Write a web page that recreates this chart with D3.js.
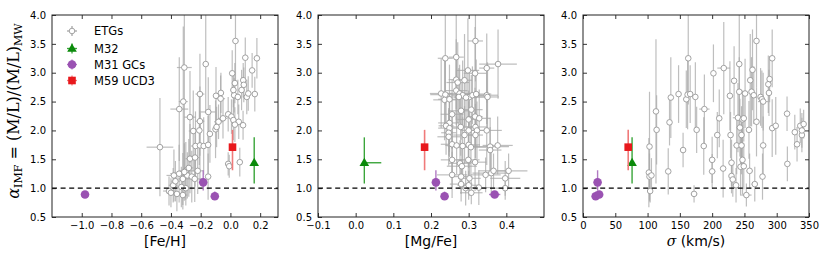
<!DOCTYPE html>
<html><head><meta charset="utf-8">
<script src="https://cdn.jsdelivr.net/npm/d3@7"></script>
<style>
body{margin:0;background:#fff;}
svg{display:block;}
.tick text{font-family:"DejaVu Sans",sans-serif;font-size:10px;fill:#000;}
</style></head>
<body>
<svg id="chart" width="830" height="260"></svg>
<script>
// ---------- data ----------
const alphaTicks = [0.5, 1.0, 1.5, 2.0, 2.5, 3.0, 3.5, 4.0];
const fehTicks = [-1.0, -0.8, -0.6, -0.4, -0.2, 0.0, 0.2];
const mgfeTicks = [-0.1, 0.0, 0.1, 0.2, 0.3, 0.4];
const sigmaTicks = [0, 50, 100, 150, 200, 250, 300, 350];
const legendLabels = ["ETGs", "M32", "M31 GCs", "M59 UCD3"];

// ETGs: [x, alpha, xerr, alphaErr]
const etgFeH = [
[-0.474,1.71,0.09,0.85],[-0.31,3.09,0.05,1.9],[-0.166,3.15,0.02,0.85],[-0.317,2.50,0.03,1.3],
[-0.344,2.37,0.06,0.9],[-0.272,2.23,0.04,0.8],[-0.205,2.63,0.03,0.7],[-0.149,2.32,0.05,0.6],
[-0.205,2.16,0.03,0.6],[-0.25,1.99,0.03,0.7],[-0.209,2.00,0.02,0.6],[-0.138,1.94,0.02,0.5],
[-0.10,2.02,0.02,0.5],[-0.097,2.60,0.02,0.5],
[-0.064,2.65,0.02,0.35],[-0.066,2.55,0.03,0.4],[-0.093,2.06,0.02,0.35],
[-0.08,2.15,0.03,0.3],[-0.05,2.21,0.03,0.35],[-0.015,2.28,0.02,0.3],[0.007,2.24,0.02,0.3],
[0.02,2.18,0.02,0.35],[0.034,3.55,0.02,0.7],[0.012,2.99,0.02,0.4],[0.03,2.82,0.02,0.35],
[0.025,2.61,0.02,0.3],[0.02,2.70,0.02,0.3],[0.05,2.58,0.02,0.3],[0.075,2.70,0.02,0.35],
[0.086,2.87,0.02,0.3],[0.10,3.26,0.02,0.35],[0.09,2.79,0.02,0.3],[0.11,2.58,0.02,0.3],
[0.12,2.64,0.02,0.3],[0.146,3.04,0.02,0.3],[0.164,2.63,0.02,0.3],[0.178,3.25,0.02,0.35],
[0.056,2.15,0.02,0.3],[0.085,2.09,0.02,0.25],[0.03,2.10,0.02,0.3],[-0.015,1.42,0.02,0.2],
[-0.008,1.38,0.02,0.2],[0.063,1.45,0.02,0.25],
[-0.235,1.73,0.03,0.6],[-0.205,1.74,0.03,0.6],[-0.18,1.73,0.03,0.5],[-0.15,1.75,0.02,0.5],
[-0.272,1.51,0.03,0.6],[-0.238,1.53,0.03,0.5],[-0.15,1.20,0.02,0.4],
[-0.38,1.22,0.05,0.45],[-0.345,1.25,0.06,0.5],[-0.30,1.30,0.04,0.5],[-0.32,1.16,0.03,0.45],
[-0.29,1.22,0.05,0.4],[-0.26,1.20,0.03,0.45],[-0.31,1.28,0.04,0.5],[-0.24,1.16,0.05,0.4],
[-0.385,1.05,0.03,0.3],[-0.413,0.95,0.04,0.25],[-0.40,0.92,0.03,0.25],[-0.32,0.88,0.03,0.25],
[-0.36,0.90,0.04,0.3],[-0.30,1.00,0.04,0.3],[-0.37,1.12,0.03,0.35],[-0.33,1.02,0.05,0.35],
[-0.28,1.35,0.03,0.5],[-0.22,1.30,0.04,0.4]
];
const etgMgFe = [
[0.238,3.25,0.02,0.8],[0.267,3.27,0.02,0.9],[0.318,3.55,0.02,0.7],[0.378,3.15,0.05,0.6],
[0.298,3.04,0.03,0.9],[0.317,2.99,0.03,0.8],[0.348,3.08,0.02,0.6],[0.267,2.88,0.02,0.7],
[0.289,2.87,0.02,0.8],[0.271,2.83,0.03,0.7],[0.227,2.64,0.03,0.6],[0.238,2.62,0.04,0.6],
[0.236,2.53,0.03,0.7],[0.249,2.54,0.03,0.6],[0.267,2.69,0.03,0.6],[0.276,2.64,0.04,0.5],
[0.284,2.61,0.03,0.6],[0.302,2.58,0.04,0.5],[0.31,2.61,0.03,0.5],[0.32,2.63,0.04,0.6],
[0.348,2.61,0.03,0.5],[0.35,2.58,0.03,0.6],[0.274,2.58,0.03,0.5],[0.293,2.57,0.03,0.5],
[0.256,2.28,0.03,0.6],[0.28,2.34,0.03,0.5],[0.307,2.36,0.03,0.6],[0.30,2.19,0.03,0.5],
[0.317,2.24,0.02,0.5],[0.328,2.21,0.03,0.5],[0.249,2.13,0.03,0.5],[0.24,2.08,0.02,0.5],
[0.249,2.04,0.03,0.5],[0.247,1.96,0.02,0.4],[0.247,1.89,0.03,0.5],[0.279,2.06,0.03,0.5],
[0.30,2.00,0.02,0.5],[0.318,2.06,0.03,0.4],[0.322,2.00,0.03,0.5],[0.318,1.92,0.02,0.4],
[0.289,1.92,0.03,0.5],[0.348,2.00,0.04,0.6],[0.256,1.76,0.03,0.5],[0.268,1.74,0.03,0.5],
[0.284,1.73,0.04,0.5],[0.30,1.75,0.03,0.4],[0.306,1.71,0.04,0.5],[0.357,1.72,0.05,0.5],
[0.377,1.74,0.04,0.5],[0.357,1.66,0.03,0.4],[0.256,1.49,0.03,0.5],[0.277,1.43,0.03,0.4],
[0.282,1.38,0.04,0.4],[0.299,1.49,0.03,0.4],[0.317,1.45,0.03,0.5],[0.256,1.23,0.04,0.4],
[0.28,1.20,0.03,0.3],[0.302,1.17,0.03,0.3],[0.345,1.23,0.04,0.3],[0.36,1.26,0.05,0.4],
[0.366,1.30,0.04,0.3],[0.406,1.30,0.05,0.3],[0.397,1.17,0.04,0.3],[0.28,1.07,0.03,0.3],
[0.292,1.00,0.02,0.3],[0.307,0.92,0.03,0.2],[0.327,1.01,0.03,0.3],[0.397,1.00,0.04,0.2],
[0.30,1.05,0.03,0.25]
];
const etgSigma = [
[103,1.72,3,0.95],[102,1.27,3,0.6],[103,1.20,3,0.4],[106,1.22,3,0.3],[104,0.95,3,0.2],
[113,2.33,4,1.25],[114,2.01,3,0.6],[132,1.29,4,0.4],[136,2.57,4,0.7],[134,2.14,4,0.4],
[148,2.63,4,0.5],[155,1.66,4,0.3],[160,2.54,5,0.5],[163,3.25,3,0.8],[162,2.62,4,0.6],
[166,2.63,4,0.5],[174,2.58,4,0.6],[176,2.01,4,0.4],[172,0.90,5,0.15],[188,2.37,8,0.6],
[187,1.73,4,0.5],[200,1.49,5,0.4],[200,1.29,5,0.3],[202,2.99,3,0.5],[208,1.92,4,0.4],
[211,2.21,4,0.5],[217,1.34,4,0.5],[218,3.08,10,0.8],[227.5,2.60,4,0.6],[228.5,1.92,4,0.4],
[230,1.44,4,0.4],[230,1.21,4,0.3],[232,1.15,5,0.3],[234,2.86,3,0.6],[237,1.05,4,0.3],
[238,1.74,5,0.5],[240,2.22,8,0.6],[242,3.15,4,0.9],[242,2.67,4,0.6],[243,2.05,5,0.5],
[244,1.37,5,0.5],[245.5,1.74,4,0.5],[245.5,1.92,4,0.5],[247,2.19,5,0.5],[249,2.21,5,0.4],
[247,1.49,4,0.6],[249,1.38,4,0.4],[251,2.64,4,0.6],[253,0.88,8,0.2],[257,2.01,4,0.5],
[258,1.30,5,0.3],[259,2.87,4,0.8],[261,2.67,4,0.6],[262.5,3.05,3,0.7],[264.5,2.61,4,0.5],
[266,1.07,5,0.3],[268.7,3.55,3,0.8],[268.7,2.15,4,0.6],[275,2.58,4,0.5],[277,2.54,4,0.5],
[279,2.50,8,0.5],[279,1.74,4,0.5],[278,1.20,4,0.4],[287,2.80,3,0.5],[288,2.65,4,0.4],
[289,2.89,3,0.4],[293,3.25,3,0.5],[293,2.04,4,0.5],[298.5,2.08,4,0.5],[316,2.29,3,0.3],
[316.5,1.42,3,0.3],[328,1.97,3,0.3],[331.5,1.76,3,0.3],[336.5,2.08,3,0.3],[339,1.92,3,0.3],
[341.7,2.11,3,0.25],[339,2.00,3,0.3]
];

// M32 (one object)
const m32Alpha = [1.44], m32AlphaLo = [0.36], m32AlphaHi = [0.44];
const m32FeH = [0.16], m32FeHErrLo = [0.005], m32FeHErrHi = [0.005];
const m32MgFe = [0.023], m32MgFeErrLo = [0.005], m32MgFeErrHi = [0.045];
const m32Sigma = [76], m32SigmaErrLo = [2], m32SigmaErrHi = [2];

// M31 globular clusters
const gcAlpha = [1.10, 0.86, 0.89], gcAlphaLo = [0.14, 0.06, 0.04], gcAlphaHi = [0.21, 0.08, 0.04];
const gcFeH = [-0.183, -0.105, -0.978], gcFeHErr = [0.01, 0.01, 0.01];
const gcMgFe = [0.213, 0.236, 0.369], gcMgFeErr = [0.005, 0.005, 0.015];
const gcSigma = [22.6, 19.6, 25], gcSigmaErr = [1, 1, 1];

// M59 UCD3
const ucdAlpha = [1.71], ucdAlphaLo = [0.40], ucdAlphaHi = [0.30];
const ucdFeH = [0.014], ucdFeHErr = [0.012];
const ucdMgFe = [0.183], ucdMgFeErr = [0.008];
const ucdSigma = [70], ucdSigmaErr = [3];

// ---------- layout ----------
const plotTop = 15, plotBottom = 217, W = 226;
const lefts = [52, 318, 583];
const colors = {etg:"#999999", etgBar:"#a8a8a8", green:"#0b8a0b", greenBar:"#3aa53a",
  purple:"#9a52b2", purpleBar:"#b07ac2", red:"#e8181c", redBar:"#f07a7a"};

const svg = d3.select("#chart");
const y = d3.scaleLinear().domain([0.5, 4.0]).range([plotBottom, plotTop]);

const panels = [
  {domain:[-1.2, 0.32], ticks:fehTicks, fmt:d3.format(".1f"), label:"[Fe/H]", etg:etgFeH,
   m32:[m32FeH, m32FeHErrLo, m32FeHErrHi], gc:[gcFeH, gcFeHErr], ucd:[ucdFeH, ucdFeHErr]},
  {domain:[-0.1, 0.5], ticks:mgfeTicks, fmt:d3.format(".1f"), label:"[Mg/Fe]", etg:etgMgFe,
   m32:[m32MgFe, m32MgFeErrLo, m32MgFeErrHi], gc:[gcMgFe, gcMgFeErr], ucd:[ucdMgFe, ucdMgFeErr]},
  {domain:[0, 350], ticks:sigmaTicks, fmt:d3.format("d"), label:"sigma", etg:etgSigma,
   m32:[m32Sigma, m32SigmaErrLo, m32SigmaErrHi], gc:[gcSigma, gcSigmaErr], ucd:[ucdSigma, ucdSigmaErr]}
];

panels.forEach((p, i) => {
  const L = lefts[i];
  const x = d3.scaleLinear().domain(p.domain).range([L, L + W]);
  const g = svg.append("g");
  const clipId = "clip" + i;
  svg.append("clipPath").attr("id", clipId).append("rect")
    .attr("x", L).attr("y", plotTop).attr("width", W).attr("height", plotBottom - plotTop);
  const plot = g.append("g").attr("clip-path", `url(#${clipId})`);

  // ETG error bars
  const eb = plot.append("g").attr("stroke", colors.etgBar).attr("stroke-width", 1.2).attr("stroke-opacity", 0.75);
  p.etg.forEach(d => {
    eb.append("line").attr("x1", x(d[0])).attr("x2", x(d[0])).attr("y1", y(d[1] - d[3])).attr("y2", y(d[1] + d[3]));
    eb.append("line").attr("x1", x(d[0] - d[2])).attr("x2", x(d[0] + d[2])).attr("y1", y(d[1])).attr("y2", y(d[1]));
  });
  plot.append("g").selectAll("circle").data(p.etg).join("circle")
    .attr("cx", d => x(d[0])).attr("cy", d => y(d[1])).attr("r", 2.8)
    .attr("fill", "#fff").attr("stroke", colors.etg).attr("stroke-width", 0.9);

  // dashed line at alpha = 1
  plot.append("line").attr("x1", L).attr("x2", L + W).attr("y1", y(1)).attr("y2", y(1))
    .attr("stroke", "#000").attr("stroke-width", 1.4).attr("stroke-dasharray", "5,3.6");

  // M32
  const [mx, mlo, mhi] = p.m32;
  mx.forEach((v, k) => {
    plot.append("line").attr("x1", x(v)).attr("x2", x(v)).attr("y1", y(m32Alpha[k] - m32AlphaLo[k])).attr("y2", y(m32Alpha[k] + m32AlphaHi[k]))
      .attr("stroke", colors.greenBar).attr("stroke-width", 1.4);
    plot.append("line").attr("x1", x(v - mlo[k])).attr("x2", x(v + mhi[k])).attr("y1", y(m32Alpha[k])).attr("y2", y(m32Alpha[k]))
      .attr("stroke", colors.greenBar).attr("stroke-width", 1.4);
    plot.append("path").attr("d", d3.symbol(d3.symbolTriangle, 40)())
      .attr("transform", `translate(${x(v)},${y(m32Alpha[k]) + 0.5})`).attr("fill", colors.green);
  });

  // M31 GCs
  const [gx, gerr] = p.gc;
  gx.forEach((v, k) => {
    plot.append("line").attr("x1", x(v)).attr("x2", x(v)).attr("y1", y(gcAlpha[k] - gcAlphaLo[k])).attr("y2", y(gcAlpha[k] + gcAlphaHi[k]))
      .attr("stroke", colors.purpleBar).attr("stroke-width", 1.4);
    plot.append("line").attr("x1", x(v - gerr[k])).attr("x2", x(v + gerr[k])).attr("y1", y(gcAlpha[k])).attr("y2", y(gcAlpha[k]))
      .attr("stroke", colors.purpleBar).attr("stroke-width", 1.4);
  });
  plot.append("g").selectAll("circle").data(gx).join("circle")
    .attr("cx", d => x(d)).attr("cy", (d, k) => y(gcAlpha[k])).attr("r", 4.3).attr("fill", colors.purple);

  // M59 UCD3
  const [ux, uerr] = p.ucd;
  ux.forEach((v, k) => {
    plot.append("line").attr("x1", x(v)).attr("x2", x(v)).attr("y1", y(ucdAlpha[k] - ucdAlphaLo[k])).attr("y2", y(ucdAlpha[k] + ucdAlphaHi[k]))
      .attr("stroke", colors.redBar).attr("stroke-width", 1.6);
    plot.append("line").attr("x1", x(v - uerr[k])).attr("x2", x(v + uerr[k])).attr("y1", y(ucdAlpha[k])).attr("y2", y(ucdAlpha[k]))
      .attr("stroke", colors.redBar).attr("stroke-width", 1.6);
    plot.append("rect").attr("x", x(v) - 3.8).attr("y", y(ucdAlpha[k]) - 3.8).attr("width", 7.6).attr("height", 7.6)
      .attr("fill", colors.red);
  });

  // axes (inward ticks on all sides)
  g.append("g").attr("transform", `translate(0,${plotBottom})`)
    .call(d3.axisBottom(x).tickValues(p.ticks).tickFormat(p.fmt).tickSizeInner(-4).tickSizeOuter(0).tickPadding(5));
  g.append("g").attr("transform", `translate(0,${plotTop})`)
    .call(d3.axisTop(x).tickValues(p.ticks).tickFormat("").tickSizeInner(-4).tickSizeOuter(0));
  g.append("g").attr("transform", `translate(${L},0)`)
    .call(d3.axisLeft(y).tickValues(alphaTicks).tickFormat(d3.format(".1f")).tickSizeInner(-4).tickSizeOuter(0).tickPadding(6));
  g.append("g").attr("transform", `translate(${L + W},0)`)
    .call(d3.axisRight(y).tickValues(alphaTicks).tickFormat("").tickSizeInner(-4).tickSizeOuter(0));
  g.selectAll(".domain").remove();
  g.selectAll(".tick line").attr("stroke", "#000").attr("stroke-width", 0.8);
  g.append("rect").attr("x", L).attr("y", plotTop).attr("width", W).attr("height", plotBottom - plotTop)
    .attr("fill", "none").attr("stroke", "#222").attr("stroke-width", 1);

  // x label
  const xl = g.append("text").attr("x", L + W / 2).attr("y", 246).attr("text-anchor", "middle")
    .attr("font-family", "DejaVu Sans, sans-serif").attr("font-size", 14).attr("fill", "#000");
  if (p.label === "sigma") {
    xl.append("tspan").attr("font-family", "DejaVu Serif, serif").attr("font-style", "italic").text("σ");
    xl.append("tspan").text(" (km/s)");
  } else {
    xl.text(p.label);
  }
});

// y label (mathtext-like)
const yl = svg.append("text").attr("transform", `translate(19,111) rotate(-90)`).attr("text-anchor", "middle")
  .attr("font-family", "DejaVu Serif, serif").attr("font-size", 16).attr("fill", "#000");
yl.append("tspan").attr("font-style", "italic").text("α");
yl.append("tspan").attr("font-size", 11).attr("dy", 3).text("IMF");
yl.append("tspan").attr("dy", -3).text(" = (M/L)/(M/L)");
yl.append("tspan").attr("font-size", 11).attr("dy", 3).text("MW");

// legend
const legY = [31, 48.5, 64.5, 80.5];
const lx = 72, tx = 94;
const leg = svg.append("g");
legendLabels.forEach((lab, k) => {
  const yy = legY[k];
  const barCol = [colors.etgBar, colors.greenBar, colors.purpleBar, colors.redBar][k];
  leg.append("line").attr("x1", lx - 5).attr("x2", lx + 5).attr("y1", yy).attr("y2", yy).attr("stroke", barCol).attr("stroke-width", 1.3);
  leg.append("line").attr("x1", lx).attr("x2", lx).attr("y1", yy - 5).attr("y2", yy + 5).attr("stroke", barCol).attr("stroke-width", 1.3);
  if (k === 0) leg.append("circle").attr("cx", lx).attr("cy", yy).attr("r", 2.8).attr("fill", "#fff").attr("stroke", colors.etg).attr("stroke-width", 0.9);
  if (k === 1) leg.append("path").attr("d", d3.symbol(d3.symbolTriangle, 40)()).attr("transform", `translate(${lx},${yy + 0.5})`).attr("fill", colors.green);
  if (k === 2) leg.append("circle").attr("cx", lx).attr("cy", yy).attr("r", 4.3).attr("fill", colors.purple);
  if (k === 3) leg.append("rect").attr("x", lx - 3.8).attr("y", yy - 3.8).attr("width", 7.6).attr("height", 7.6).attr("fill", colors.red);
  leg.append("text").attr("x", tx).attr("y", yy + 4).attr("font-family", "DejaVu Sans, sans-serif").attr("font-size", 11.5).attr("fill", "#000").text(lab);
});
</script>
</body></html>
